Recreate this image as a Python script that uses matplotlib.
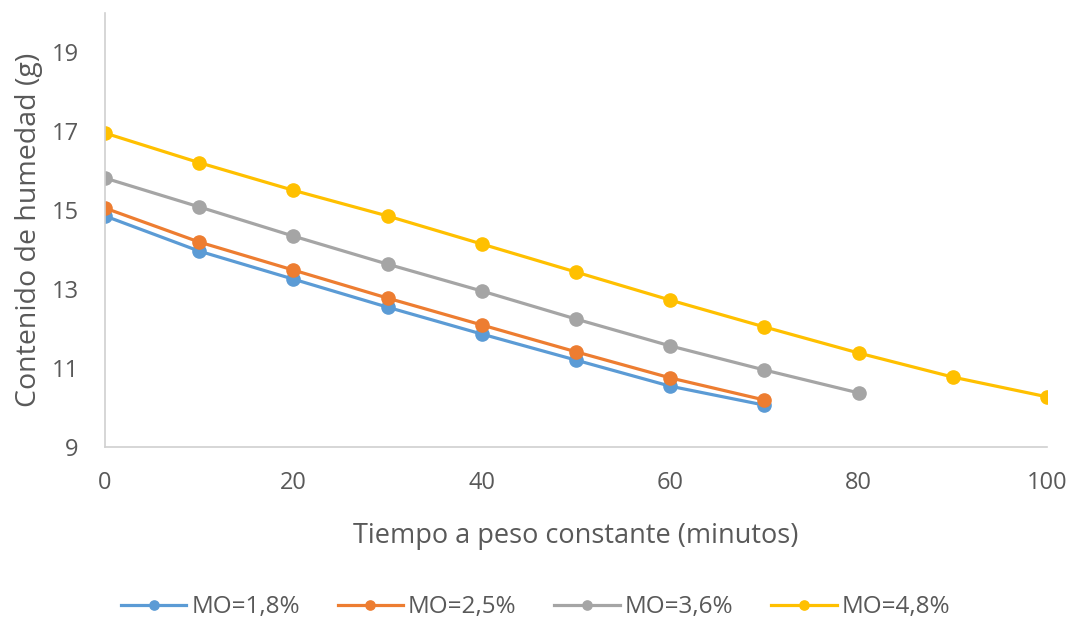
import matplotlib.pyplot as plt

# Tiempo (min) y contenido de humedad (g) para cada porcentaje de materia orgánica
t_18 = [0, 10, 20, 30, 40, 50, 60, 70]
h_18 = [14.85, 13.96, 13.25, 12.54, 11.86, 11.20, 10.54, 10.06]

t_25 = [0, 10, 20, 30, 40, 50, 60, 70]
h_25 = [15.05, 14.19, 13.48, 12.77, 12.09, 11.41, 10.75, 10.19]

t_36 = [0, 10, 20, 30, 40, 50, 60, 70, 80]
h_36 = [15.81, 15.08, 14.34, 13.63, 12.95, 12.24, 11.56, 10.95, 10.37]

t_48 = [0, 10, 20, 30, 40, 50, 60, 70, 80, 90, 100]
h_48 = [16.95, 16.20, 15.50, 14.85, 14.14, 13.43, 12.72, 12.04, 11.38, 10.77, 10.27]

labels = ["MO=1,8%", "MO=2,5%", "MO=3,6%", "MO=4,8%"]
colors = ["#5B9BD5", "#ED7D31", "#A5A5A5", "#FFC000"]
x_ticks = [0, 20, 40, 60, 80, 100]
y_ticks = [9, 11, 13, 15, 17, 19]

plt.rcParams['font.family'] = ['Open Sans', 'DejaVu Sans']
text_color = "#595959"

fig = plt.figure(figsize=(10.71, 6.3), dpi=100)
ax = fig.add_axes([0.098, 0.2905, 0.8796, 0.6895])

series = [(t_18, h_18), (t_25, h_25), (t_36, h_36), (t_48, h_48)]
for (t, h), lab, c in zip(series, labels, colors):
    ax.plot(t, h, color=c, lw=2.3, marker='o', markersize=9.5, label=lab)

ax.set_xlim(0, 100)
ax.set_ylim(9, 20)
ax.set_xticks(x_ticks)
ax.set_yticks(y_ticks)
ax.tick_params(axis='both', length=0, labelsize=17, colors=text_color)
ax.tick_params(axis='x', pad=17)
ax.tick_params(axis='y', pad=19)

for side in ['top', 'right']:
    ax.spines[side].set_visible(False)
for side in ['left', 'bottom']:
    ax.spines[side].set_color("#D0D0D0")
    ax.spines[side].set_linewidth(1.2)

ax.set_xlabel("Tiempo a peso constante (minutos)", fontsize=19.5, color=text_color, labelpad=20)
ax.set_ylabel("Contenido de humedad (g)", fontsize=20.5, color=text_color, labelpad=6)

leg = fig.legend(loc='center', bbox_to_anchor=(0.5, 0.036), ncol=4, frameon=False,
                 fontsize=17.5, handlelength=2.7, handletextpad=0.2, columnspacing=1.55,
                 markerscale=0.7)
for txt in leg.get_texts():
    txt.set_color(text_color)

fig.savefig("out.png", dpi=100)
